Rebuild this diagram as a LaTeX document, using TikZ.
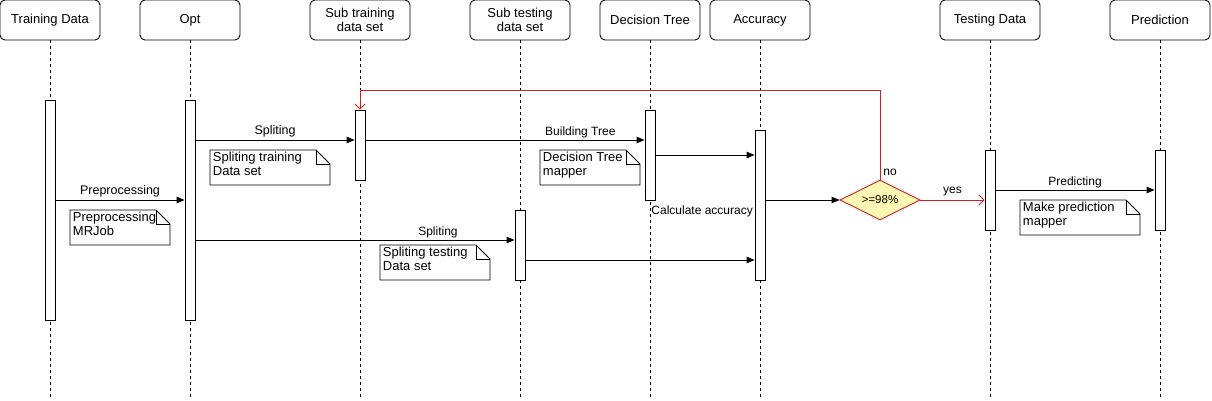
\documentclass[tikz,border=0pt]{standalone}
\usepackage{fontspec}
\setmainfont{Liberation Sans}
\usetikzlibrary{arrows.meta,shapes.geometric}

\definecolor{loopred}{HTML}{D02020}
\definecolor{checkfill}{HTML}{FFF8B4}

\tikzset{
  head/.style={draw, rounded corners=5pt, minimum width=100pt, minimum height=40pt, inner sep=0pt,
    align=center, font=\fontsize{13}{14.5}\selectfont},
  life/.style={dash pattern=on 3pt off 3pt},
  bar/.style={draw, fill=white, minimum width=10pt, inner sep=0pt},
  msg/.style={-{Triangle[length=8pt,width=6.5pt]}},
  lbl/.style={font=\fontsize{12}{13}\selectfont, inner sep=2pt},
  notetext/.style={font=\fontsize{13}{14}\selectfont, align=left, inner sep=1.5pt},
  redline/.style={draw=loopred, -{Straight Barb[length=5pt,width=10pt]}}
}

% note with folded corner: name, x, y, width, height, text
\newcommand\notebox[6]{%
  \draw[fill=white] (#2,#3) -- (#2+#4-14,#3) -- (#2+#4,#3+14) -- (#2+#4,#3+#5) -- (#2,#3+#5) -- cycle;
  \draw (#2+#4-14,#3) -- (#2+#4-14,#3+14) -- (#2+#4,#3+14);
  \node[notetext, anchor=north west] (#1) at (#2+1,#3) {#6};
}

\begin{document}
\begin{tikzpicture}[x=1pt,y=-1pt,line width=0.9pt]
  \useasboundingbox (0,0) rectangle (1212,401);

  %Kopfzeilen
  \node[head] (hTrain) at (50,20) {Training Data};
  \node[head] (hOpt) at (190,20) {Opt};
  \node[head] (hSubTr) at (360,20) {Sub training\\data set};
  \node[head] (hSubTe) at (520,20) {Sub testing\\data set};
  \node[head] (hTree) at (650,20) {Decision Tree};
  \node[head] (hAcc) at (760,20) {Accuracy};
  \node[head] (hTest) at (990,20) {Testing Data};
  \node[head] (hPred) at (1160,20) {Prediction};

  %Lebenslinien
  \foreach \h in {hTrain,hOpt,hSubTr,hSubTe,hTree,hAcc,hTest,hPred}
    \draw[life] (\h.south) -- (\h.south |- 0,398);

  %Balken
  \node[bar, minimum height=220pt] (bTrain) at (50,210) {};
  \node[bar, minimum height=220pt] (bOpt) at (190,210) {};
  \node[bar, minimum height=70pt] (bSubTr) at (360,145) {};
  \node[bar, minimum height=70pt] (bSubTe) at (520,245) {};
  \node[bar, minimum height=90pt] (bTree) at (650,155) {};
  \node[bar, minimum height=150pt] (bAcc) at (760,205) {};
  \node[bar, minimum height=80pt] (bTest) at (990,190) {};
  \node[bar, minimum height=80pt] (bPred) at (1160,190) {};

  %Nachrichten
  \draw[msg] (bTrain.east |- 0,200) -- (bOpt.west |- 0,200)
    node[midway, above, lbl, font=\fontsize{12.5}{14}\selectfont] {Preprocessing};
  \draw[msg] (bOpt.east |- 0,140) -- (bSubTr.west |- 0,140)
    node[midway, above, lbl, font=\fontsize{12.5}{14}\selectfont] {Spliting};
  \draw[msg] (bSubTr.east |- 0,140) -- (bTree.west |- 0,140)
    node[pos=0.77, above, lbl] {Building Tree};
  \draw[msg] (bTree.east |- 0,155) -- (bAcc.west |- 0,155);
  \draw[msg] (bOpt.east |- 0,240) -- (bSubTe.west |- 0,240)
    node[pos=0.76, above, lbl] {Spliting};
  \draw[msg] (bSubTe.east |- 0,260) -- (bAcc.west |- 0,260);
  \node[lbl, anchor=west] (calc) at (649,211) {Calculate accuracy};

  %Entscheidung
  \node[diamond, draw=loopred, fill=checkfill, minimum width=80pt, minimum height=40pt, inner sep=0pt,
    aspect=2, font=\fontsize{11.5}{13}\selectfont] (check) at (880,200) {>=98\%};
  \draw[msg] (bAcc.east |- check.west) -- (check.west);
  \draw[redline] (check.north) -- (check.north |- 0,90) -| (bSubTr.north);
  \node[lbl, anchor=south west] (no) at ([xshift=1pt,yshift=1pt]check.north) {no};
  \draw[redline] (check.east) -- (bTest.west |- check.east)
    node[midway, above, lbl, yshift=2pt] {yes};
  \draw[msg] (bTest.east |- 0,190) -- (bPred.west |- 0,190)
    node[midway, above, lbl] {Predicting};

  %Notizen
  \notebox{nPre}{70}{210}{100}{35}{Preprocessing\\MRJob}
  \notebox{nSplTr}{210}{150}{120}{35}{Spliting training\\Data set}
  \notebox{nTree}{540}{150}{100}{35}{Decision Tree\\mapper}
  \notebox{nSplTe}{380}{245}{110}{35}{Spliting testing\\Data set}
  \notebox{nPred}{1020}{200}{120}{35}{Make prediction\\mapper}
\end{tikzpicture}
\end{document}
